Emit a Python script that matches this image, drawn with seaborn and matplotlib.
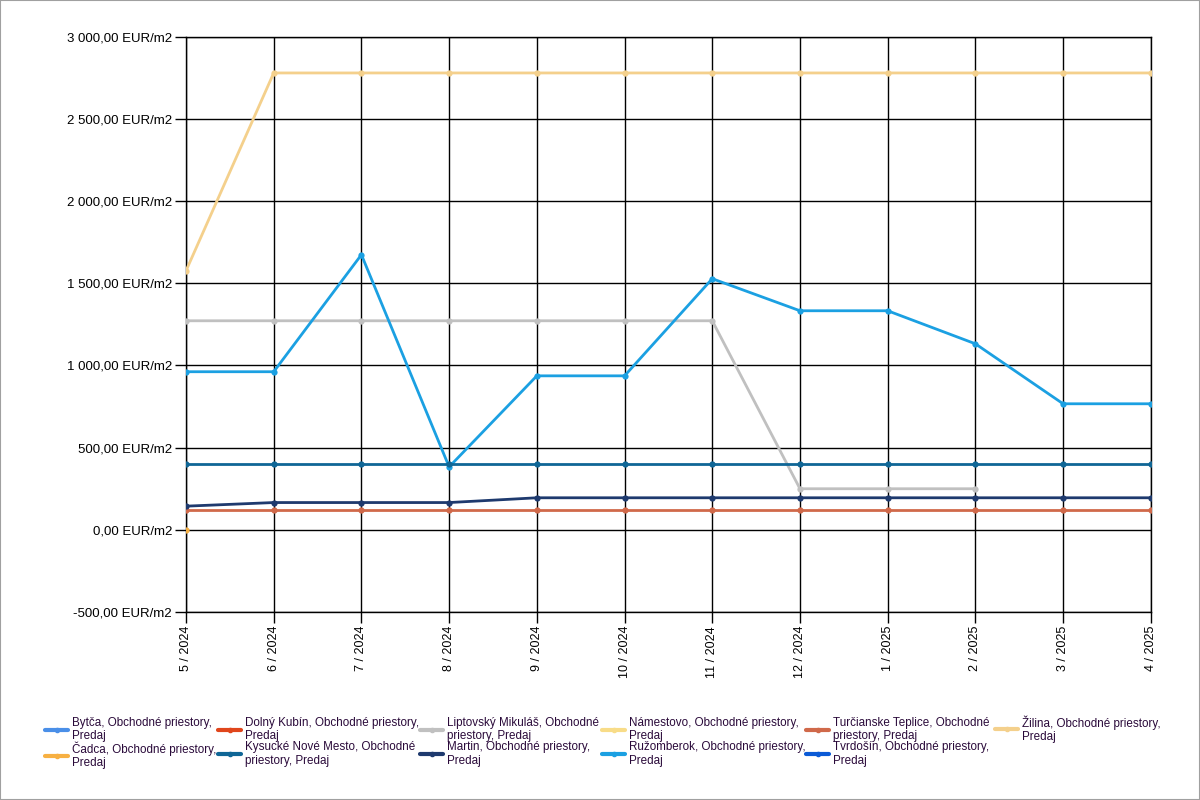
import numpy as np
import pandas as pd
import matplotlib
matplotlib.use("Agg")
import matplotlib.pyplot as plt
import seaborn as sns
from matplotlib.lines import Line2D
from matplotlib.patches import Rectangle

months = ["5 / 2024", "6 / 2024", "7 / 2024", "8 / 2024", "9 / 2024", "10 / 2024",
          "11 / 2024", "12 / 2024", "1 / 2025", "2 / 2025", "3 / 2025", "4 / 2025"]

nan = np.nan
zilina = [1576, 2780, 2780, 2780, 2780, 2780, 2780, 2780, 2780, 2780, 2780, 2780]
cadca = [0, nan, nan, nan, nan, nan, nan, nan, nan, nan, nan, nan]
ruzomberok = [962, 962, 1674, 383, 937, 937, 1528, 1333, 1333, 1132, 767, 767]
liptovsky = [1272, 1272, 1272, 1272, 1272, 1272, 1272, 250, 250, 250, nan, nan]
kysucke = [400, 400, 400, 400, 400, 400, 400, 400, 400, 400, 400, 400]
martin = [144, 166, 166, 166, 195, 195, 195, 195, 195, 195, 195, 195]
turcianske = [122, 122, 122, 122, 122, 122, 122, 122, 122, 122, 122, 122]

series_names = ["Bytča", "Čadca", "Dolný Kubín", "Kysucké Nové Mesto", "Liptovský Mikuláš",
                "Martin", "Námestovo", "Ružomberok", "Turčianske Teplice", "Tvrdošín", "Žilina"]
legend_labels = [
    "Bytča, Obchodné priestory,\nPredaj",
    "Čadca, Obchodné priestory,\nPredaj",
    "Dolný Kubín, Obchodné priestory,\nPredaj",
    "Kysucké Nové Mesto, Obchodné\npriestory, Predaj",
    "Liptovský Mikuláš, Obchodné\npriestory, Predaj",
    "Martin, Obchodné priestory,\nPredaj",
    "Námestovo, Obchodné priestory,\nPredaj",
    "Ružomberok, Obchodné priestory,\nPredaj",
    "Turčianske Teplice, Obchodné\npriestory, Predaj",
    "Tvrdošín, Obchodné priestory,\nPredaj",
    "Žilina, Obchodné priestory,\nPredaj",
]
colors = {
    "Bytča": "#4a8fe8",
    "Čadca": "#f7b042",
    "Dolný Kubín": "#e0461c",
    "Kysucké Nové Mesto": "#0f6696",
    "Liptovský Mikuláš": "#c0c0c0",
    "Martin": "#1e3a6e",
    "Námestovo": "#f8dc88",
    "Ružomberok": "#1ba0e2",
    "Turčianske Teplice": "#d0694a",
    "Tvrdošín": "#0a5ad6",
    "Žilina": "#f4d08c",
}

data = {
    "Čadca": cadca, "Kysucké Nové Mesto": kysucke, "Liptovský Mikuláš": liptovsky,
    "Martin": martin, "Ružomberok": ruzomberok, "Turčianske Teplice": turcianske,
    "Žilina": zilina,
}
rows = []
for name, vals in data.items():
    for i, v in enumerate(vals):
        if not np.isnan(v):
            rows.append({"x": i, "value": v, "series": name})
df = pd.DataFrame(rows)

sns.set_style("white")
plt.rcParams["font.family"] = ["Liberation Sans", "DejaVu Sans"]

fig = plt.figure(figsize=(12, 8), dpi=100)
ax = fig.add_axes([0.155, 0.235, 0.804, 0.719])

draw_order = ["Žilina", "Liptovský Mikuláš", "Ružomberok", "Kysucké Nové Mesto",
              "Turčianske Teplice", "Martin", "Čadca"]
for name in draw_order:
    sub = df[df["series"] == name]
    sns.lineplot(data=sub, x="x", y="value", color=colors[name], ax=ax,
                 linewidth=2, marker="o", markersize=4.5, markeredgewidth=0,
                 legend=False, zorder=3)

ax.set_xlim(0, len(months) - 1)
ax.set_ylim(-500, 3000)
ax.set_xticks(range(len(months)))
ax.set_xticklabels(months, rotation=90, fontsize=9)
yt = np.arange(-500, 3001, 500)
ax.set_yticks(yt)

def fmt(v):
    s = f"{abs(v):,.2f}".replace(",", " ").replace(".", ",")
    return ("-" if v < 0 else "") + s + " EUR/m2"

ax.set_yticklabels([fmt(v) for v in yt], fontsize=9.5)
ax.grid(True, color="black", linewidth=1)
ax.set_axisbelow(True)
for sp in ax.spines.values():
    sp.set_color("black")
    sp.set_linewidth(1)
ax.tick_params(axis="both", direction="out", length=8, width=1, color="black",
               left=True, bottom=True, labelcolor="black", pad=2)
ax.set_xlabel("")
ax.set_ylabel("")

handles = [Line2D([0], [0], color=colors[n], linewidth=3, marker="o", markersize=3)
           for n in series_names]
col_x = [45, 218, 420, 602, 806, 995]
for c, x0 in enumerate(col_x):
    hs = handles[2 * c:2 * c + 2]
    ls = legend_labels[2 * c:2 * c + 2]
    ytop = 717 if len(hs) == 2 else 715
    leg = fig.legend(hs, ls, loc="upper left", bbox_to_anchor=(x0 / 1200, 1 - ytop / 800),
                     ncol=1, frameon=False, fontsize=8.4, handlelength=2.0,
                     handletextpad=0.3, labelspacing=-0.1, borderaxespad=0,
                     borderpad=0)
    for t in leg.get_texts():
        t.set_color("#2a0a3a")
        t.set_linespacing(1.15)

fig.patches.append(Rectangle((0, 0), 1, 1, transform=fig.transFigure, fill=False,
                             edgecolor="#a0a0a0", linewidth=1.5))

fig.savefig("out.png", dpi=100)
